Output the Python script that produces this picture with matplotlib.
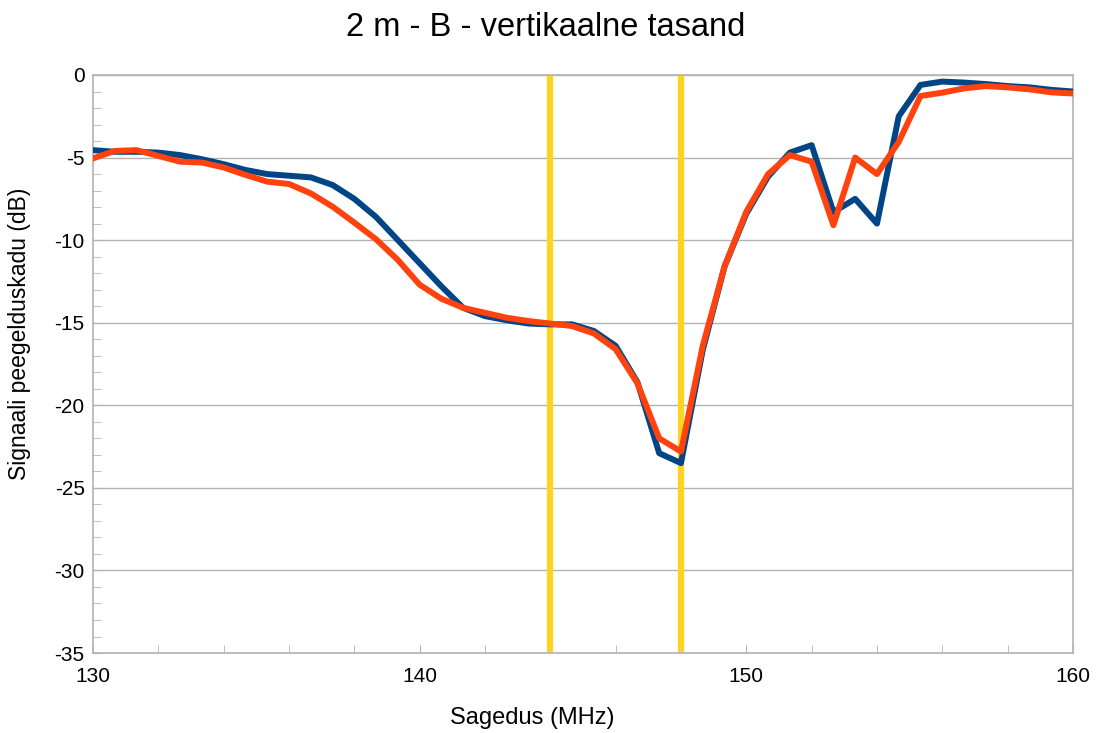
import numpy as np
import matplotlib.pyplot as plt
from matplotlib.ticker import MultipleLocator

# Sagedus (MHz), samm 2/3 MHz
freq = np.linspace(130, 160, 46)

# sinine kõver
blue = [-4.55, -4.65, -4.65, -4.7, -4.85, -5.1, -5.4, -5.75, -6.0, -6.1,
        -6.2, -6.66, -7.5, -8.6, -10.0, -11.4, -12.8, -14.1, -14.6, -14.85,
        -15.05, -15.1, -15.1, -15.5, -16.4, -18.6, -22.9, -23.5, -16.65, -11.6,
        -8.4, -6.15, -4.7, -4.25, -8.3, -7.5, -9.0, -2.5, -0.6, -0.4,
        -0.46, -0.55, -0.67, -0.75, -0.9, -1.0]

# punane kõver
red = [-5.05, -4.6, -4.55, -4.9, -5.25, -5.3, -5.6, -6.05, -6.46, -6.6,
       -7.17, -7.97, -8.94, -9.95, -11.2, -12.7, -13.55, -14.1, -14.4, -14.7,
       -14.9, -15.05, -15.2, -15.65, -16.6, -18.67, -22.0, -22.8, -16.4, -11.6,
       -8.28, -6.0, -4.85, -5.25, -9.1, -5.0, -6.0, -4.05, -1.27, -1.07,
       -0.81, -0.67, -0.75, -0.87, -1.05, -1.12]

# sagedusala piirid
markers = [144, 148]

plt.rcParams['font.family'] = ['Liberation Sans', 'DejaVu Sans']
plt.rcParams['axes.unicode_minus'] = False

fig = plt.figure(figsize=(10.98, 7.33), dpi=100)
ax = fig.add_axes([0.0847, 0.1091, 0.8925, 0.7886])

for m in markers:
    ax.axvline(m, color='#FFD320', linewidth=4.5, zorder=2)

ax.plot(freq, blue, color='#004586', linewidth=4.3, zorder=3)
ax.plot(freq, red, color='#FF420E', linewidth=4.3, zorder=4)

ax.set_xlim(130, 160)
ax.set_ylim(-35, 0)
ax.xaxis.set_major_locator(MultipleLocator(10))
ax.xaxis.set_minor_locator(MultipleLocator(2))
ax.yaxis.set_major_locator(MultipleLocator(5))
ax.yaxis.set_minor_locator(MultipleLocator(1))

ax.grid(True, axis='y', which='major', color='#b3b3b3', linewidth=1)
ax.set_axisbelow(True)
ax.tick_params(which='both', direction='in', color='#b3b3b3', labelsize=15)
ax.tick_params(which='major', length=6)
ax.tick_params(which='minor', length=6)
ax.tick_params(axis='x', pad=10)
ax.tick_params(axis='y', pad=6)
for s in ax.spines.values():
    s.set_color('#b3b3b3')
    s.set_linewidth(1.2)

fig.text(0.497, 0.963, "2 m - B - vertikaalne tasand", fontsize=23.5,
         ha='center', va='center')
ax.set_xlabel("Sagedus (MHz)", fontsize=17)
ax.xaxis.set_label_coords(0.448, -0.093)
ax.set_ylabel("Signaali peegelduskadu (dB)", fontsize=16.5)
ax.yaxis.set_label_coords(-0.063, 0.552)

fig.savefig("out.png", dpi=100)
